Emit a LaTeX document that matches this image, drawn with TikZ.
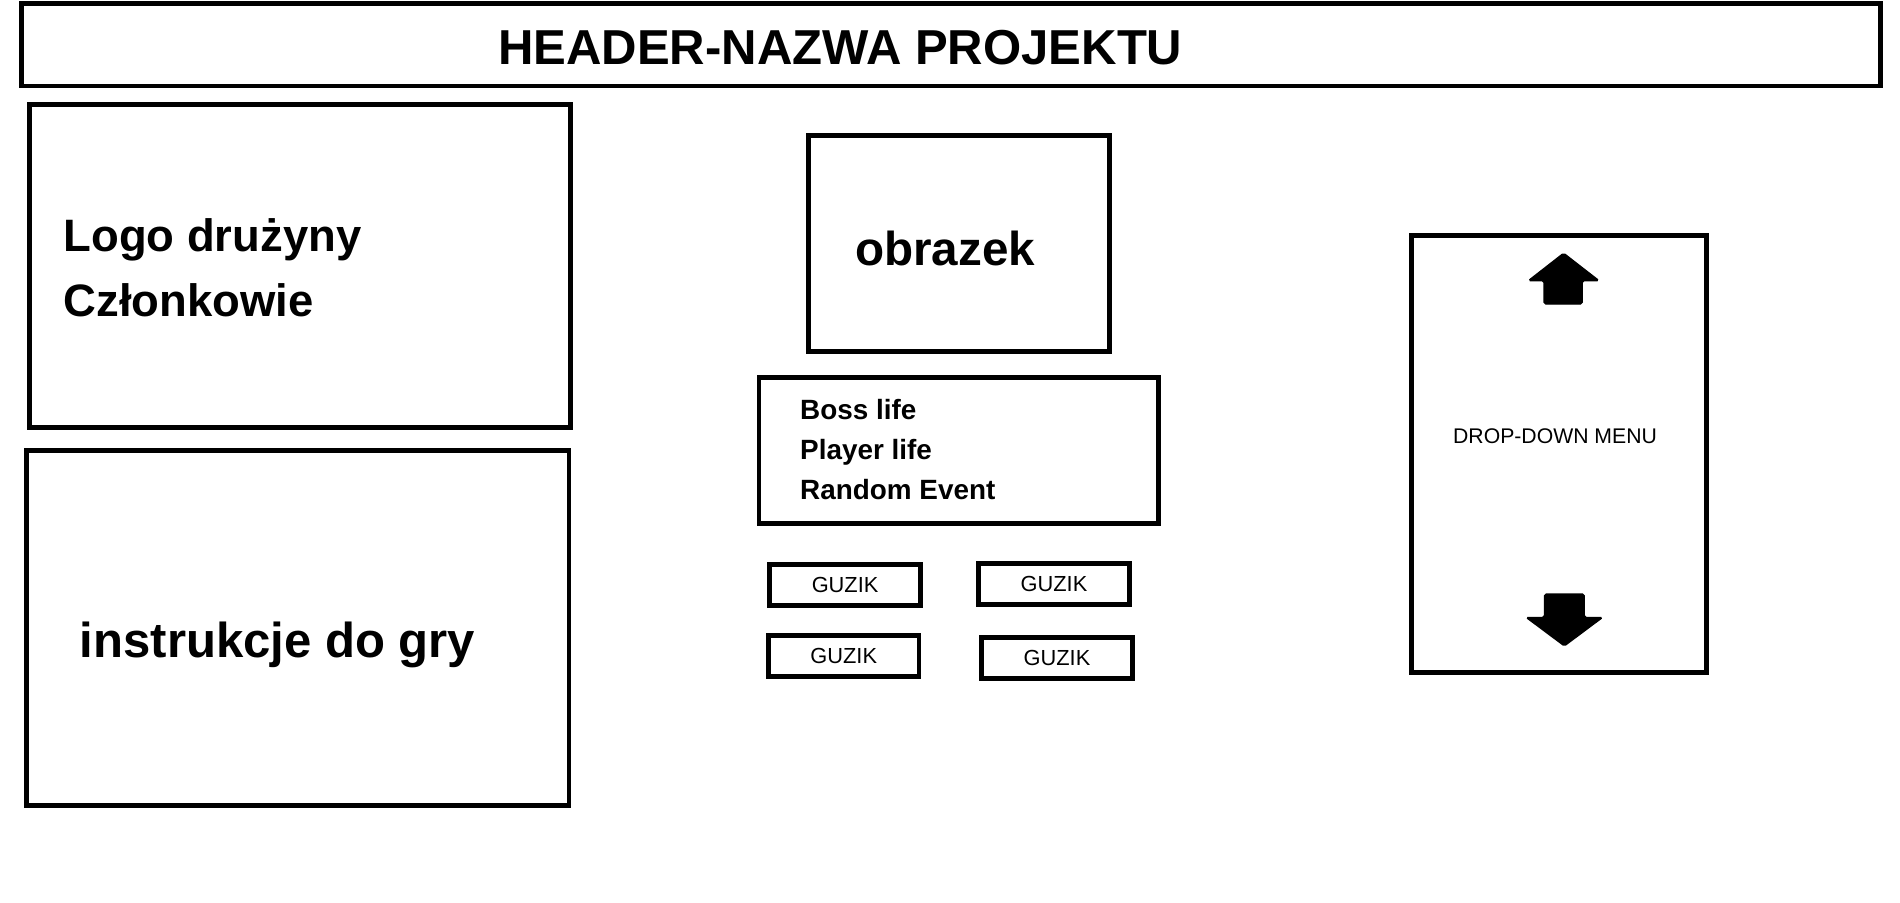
\documentclass[tikz,border=0pt]{standalone}
\usepackage{fontspec}
\setmainfont{Liberation Sans}
\begin{document}
\begin{tikzpicture}[x=1pt,y=-1pt,
  frame/.style={draw=black, line width=4pt, fill=white, inner sep=0pt, outer sep=0pt},
  bigtxt/.style={anchor=base west, inner sep=0pt, font=\fontsize{#1}{#1}\selectfont\bfseries},
  btn/.style={frame, minimum width=#1, minimum height=34, font=\fontsize{18}{18}\selectfont},
  arrowfill/.style={fill=black, draw=black, line width=1pt, rounded corners=1.5pt}
]
\useasboundingbox[fill=white] (0,0) rectangle (1568,745.2);

% header
\node[frame, minimum width=1534, minimum height=68] (header) at (785,37) {};
\node[anchor=base, inner sep=0pt, font=\fontsize{40.5}{40.5}\selectfont\bfseries] (hdrtxt) at (693.5,53) {HEADER-NAZWA PROJEKTU};

% left column
\node[frame, minimum width=447, minimum height=266] (logo) at (247.5,219.5) {};
\node[bigtxt=37.5] (logotxt) at (52.2,207.7) {Logo drużyny};
\node[bigtxt=37.5] (members) at (52.2,261.3) {Członkowie};

\node[frame, minimum width=447.5, minimum height=293] (instr) at (245.8,518.5) {};
\node[bigtxt=40.5] (instrtxt) at (65.7,543) {instrukcje do gry};

% centre column
\node[frame, minimum width=248.4, minimum height=178] (img) at (791.6,200.8) {};
\node[bigtxt=39.3] (imgtxt) at (705.6,218.7) {obrazek};

\node[frame, minimum width=329.7, minimum height=120] (stats) at (791.2,371.8) {};
\node[bigtxt=23] (boss) at (660.2,346.6) {Boss life};
\node[bigtxt=23] (player) at (660.2,379.6) {Player life};
\node[bigtxt=23] (random) at (660.2,412.6) {Random Event};

\node[btn=124.7] (btna) at (697.4,482.8) {GUZIK};
\node[btn=124.8] (btnb) at (869.8,482) {GUZIK};
\node[btn=124.3] (btnc) at (696.3,541.4) {GUZIK};
\node[btn=124.4] (btnd) at (872.3,543) {GUZIK};

% drop-down menu
\node[frame, minimum width=243.2, minimum height=360.6] (menu) at (1286.6,374.6) {};
\node[anchor=base, inner sep=0pt, font=\fontsize{17.5}{17.5}\selectfont] (menutxt) at (1283.3,365.9) {DROP-DOWN MENU};

\filldraw[arrowfill] (1274.2,250.9) -- (1274.2,231.6) -- (1261.3,231.6) -- (1290.4,208.9)
  -- (1319.6,231.6) -- (1305.8,231.6) -- (1305.8,250.9) -- cycle;
\filldraw[arrowfill] (1274.5,490.2) -- (1307.5,490.2) -- (1307.5,509.5) -- (1322.6,509.5)
  -- (1291,533.1) -- (1259.4,509.5) -- (1274.5,509.5) -- cycle;
\end{tikzpicture}
\end{document}
